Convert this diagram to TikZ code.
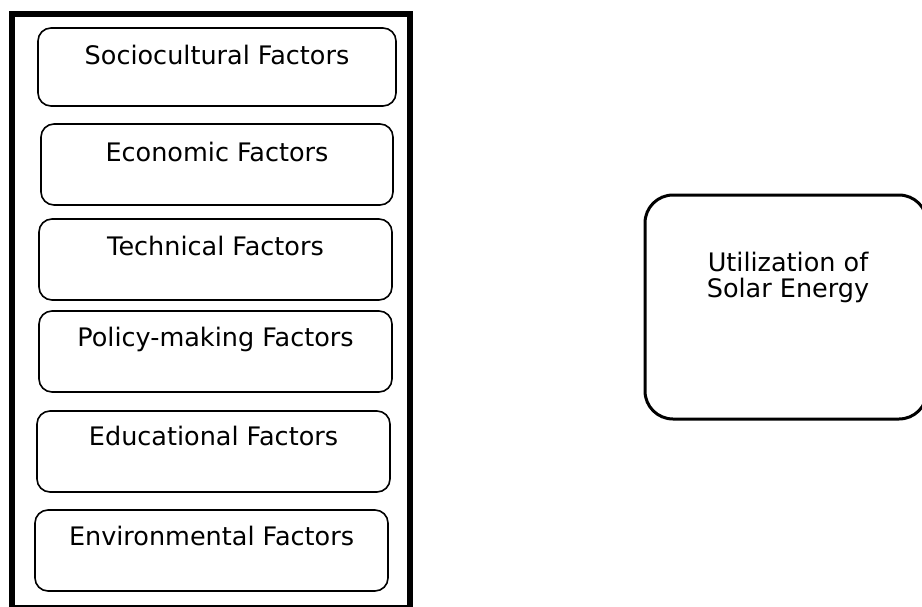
\documentclass[tikz,border=0pt]{standalone}
\usepackage{fontspec}
\setmainfont{DejaVu Sans}
\begin{document}
\begin{tikzpicture}[x=0.5pt,y=-0.5pt,
  fbox/.style={draw=black, line width=0.8pt, rounded corners=6.5pt, inner sep=0pt, minimum height=40.5pt, minimum width=176.5pt},
  lbl/.style={font=\fontsize{12.75pt}{13pt}\selectfont, inner sep=0pt, text=black},
  outerbox/.style={draw=black, line width=3pt},
  mainbox/.style={draw=black, line width=1.5pt, rounded corners=14pt, inner sep=0pt, minimum width=141pt, minimum height=112pt}]
\useasboundingbox (0,0) rectangle (922,606);
\draw[outerbox] (11.5,14) rectangle (410,608);
% factor boxes
\node[fbox, minimum width=179pt, minimum height=39pt] (b1) at (217,67) {};
\node[fbox, minimum width=176pt] (b2) at (217,164.5) {};
\node[fbox] (b3) at (215.5,259.5) {};
\node[fbox] (b4) at (215.5,351.5) {};
\node[fbox] (b5) at (213.5,451.5) {};
\node[fbox] (b6) at (211.5,550.5) {};
\node[lbl, anchor=base] (t1) at ([yshift=-18.5pt]b1.north) {Sociocultural Factors};
\node[lbl, anchor=base] (t2) at ([yshift=-19pt]b2.north) {Economic Factors};
\node[lbl, anchor=base] (t3) at ([yshift=-18.5pt]b3.north) {Technical Factors};
\node[lbl, anchor=base] (t4) at ([yshift=-18pt]b4.north) {Policy-making Factors};
\node[lbl, anchor=base] (t5) at ([yshift=-17.5pt]b5.north) {Educational Factors};
\node[lbl, anchor=base] (t6) at ([yshift=-18pt]b6.north) {Environmental Factors};
% outcome box
\node[mainbox] (u) at (786,307) {};
\node[lbl, anchor=north, align=center] (ut) at ([xshift=1pt,yshift=-29.2pt]u.north) {Utilization of\\Solar Energy};
\end{tikzpicture}
\end{document}
